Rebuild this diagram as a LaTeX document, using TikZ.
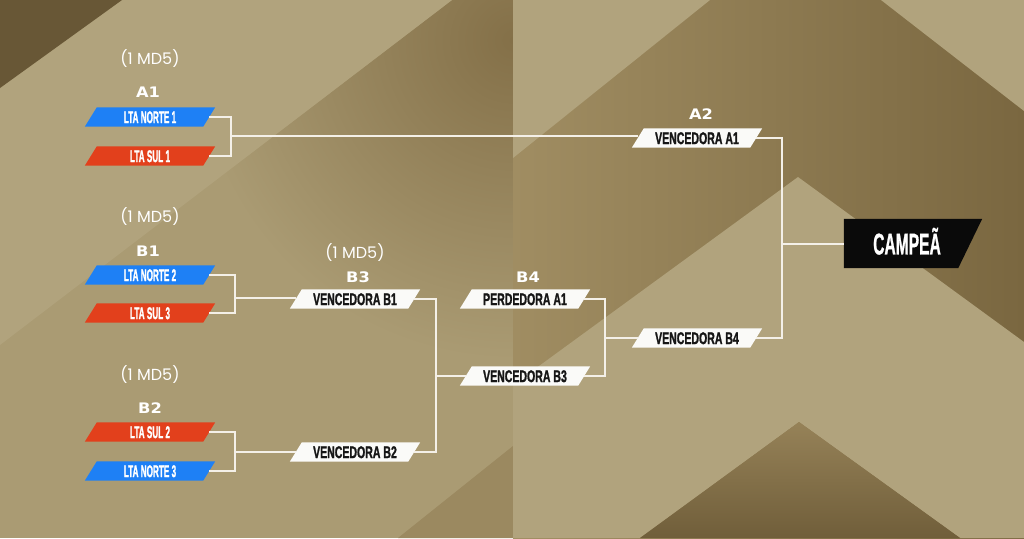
\documentclass[tikz,border=0pt]{standalone}
\usepackage{fontspec}
\setmainfont{Liberation Sans}
\newfontfamily\teamfont[FakeStretch=0.48,FakeBold=1.2]{Liberation Sans}
\newfontfamily\winfont[FakeStretch=0.62,FakeBold=1.2]{Liberation Sans}
\newfontfamily\champfont[FakeStretch=0.52,FakeBold=0.8]{Liberation Sans}
\newfontfamily\roundfont[FakeStretch=1.12]{DejaVu Sans}
\newfontfamily\mdfont{Poppins}
\pgfdeclarelayer{bg}
\pgfdeclarelayer{boxes}
\pgfsetlayers{bg,boxes,main}
\definecolor{bgLight}{RGB}{177,163,125}
\definecolor{bgLeft}{RGB}{170,155,115}
\definecolor{bandL}{RGB}{160,141,98}
\definecolor{bandR}{RGB}{122,103,64}
\definecolor{cornerDk}{RGB}{104,87,54}
\definecolor{shadowDk}{RGB}{132,112,72}
\definecolor{midDk}{RGB}{155,137,96}
\definecolor{triTop}{RGB}{150,130,88}
\definecolor{triBot}{RGB}{112,94,58}
\definecolor{ltaBlue}{RGB}{30,128,245}
\definecolor{ltaRed}{RGB}{226,64,28}
\definecolor{lineW}{RGB}{244,240,232}
\definecolor{boxW}{RGB}{250,250,248}
\definecolor{txtK}{RGB}{22,22,22}
\definecolor{champK}{RGB}{10,10,10}
\newcommand\slantfill[2]{\fill[#2] ([xshift=-6pt]#1.south west) -- ([xshift=6pt]#1.north west) -- ([xshift=6pt]#1.north east) -- ([xshift=-6pt]#1.south east) -- cycle;}
\tikzset{
  box/.style={minimum width=118pt, minimum height=19pt, inner sep=0pt, text height=12.2pt, text depth=0pt},
  team/.style={box, text=white, font=\teamfont\bfseries\fontsize{17}{17}\selectfont},
  win/.style={box, text=txtK, font=\winfont\bfseries\fontsize{17}{17}\selectfont},
  champ/.style={minimum width=126pt, minimum height=49pt, inner sep=0pt, text height=21.9pt, text depth=0pt, text=white, font=\champfont\bfseries\fontsize{30}{30}\selectfont},
  md/.style={text=white, font=\mdfont\fontsize{16}{16}\selectfont, inner sep=0pt},
  rnd/.style={text=white, font=\roundfont\bfseries\fontsize{14.5}{14.5}\selectfont, inner sep=0pt},
  conn/.style={draw=lineW, line width=1.4pt},
}
\begin{document}
\begin{tikzpicture}[x=1pt,y=-1pt]
\useasboundingbox (0,0) rectangle (1024,538);
\begin{pgfonlayer}{bg}
  % left half
  \fill[bgLeft] (0,0) rectangle (513,538);
  \begin{scope}
    \clip (452,0) -- (513,0) -- (513,538) -- (0,538) -- (0,345) -- cycle;
    \shade[inner color=shadowDk, outer color=bgLeft] (513,40) circle[radius=320];
  \end{scope}
  \fill[bgLight] (122,0) -- (452,0) -- (0,345) -- (0,88) -- cycle;
  \fill[cornerDk] (0,0) -- (122,0) -- (0,88) -- cycle;
  \fill[midDk] (513,446) -- (513,538) -- (398,538) -- cycle;
  % right half
  \shade[left color=bandL, right color=bandR] (513,0) rectangle (1024,538);
  \fill[bgLight] (513,0) -- (710,0) -- (513,158) -- cycle;
  \fill[bgLight] (881,0) -- (1024,0) -- (1024,111) -- cycle;
  \fill[bgLight] (513,385) -- (798,177) -- (1024,342) -- (1024,538) -- (960,538) -- (799,422) -- (640,538) -- (513,538) -- cycle;
  \shade[top color=triTop, bottom color=triBot] (640,538) -- (799,422) -- (960,538) -- cycle;
\end{pgfonlayer}

% team boxes
\node[team] (n1) at (150,117) {LTA NORTE 1};
\node[team] (s1) at (150,156) {LTA SUL 1};
\node[team] (n2) at (150,275) {LTA NORTE 2};
\node[team] (s3) at (150,313) {LTA SUL 3};
\node[team] (s2) at (150,432) {LTA SUL 2};
\node[team] (n3) at (150,471) {LTA NORTE 3};
% later rounds
\node[win] (va1) at (697,138) {VENCEDORA A1};
\node[win] (vb1) at (355,299) {VENCEDORA B1};
\node[win] (vb2) at (355,452) {VENCEDORA B2};
\node[win] (pa1) at (525,299) {PERDEDORA A1};
\node[win] (vb3) at (525,376) {VENCEDORA B3};
\node[win] (vb4) at (697,338) {VENCEDORA B4};
\node[champ] (camp) at (907,243.5) {CAMPEÃ};

\begin{pgfonlayer}{boxes}
  \slantfill{n1}{ltaBlue}
  \slantfill{s1}{ltaRed}
  \slantfill{n2}{ltaBlue}
  \slantfill{s3}{ltaRed}
  \slantfill{s2}{ltaRed}
  \slantfill{n3}{ltaBlue}
  \slantfill{va1}{boxW}
  \slantfill{vb1}{boxW}
  \slantfill{vb2}{boxW}
  \slantfill{pa1}{boxW}
  \slantfill{vb3}{boxW}
  \slantfill{vb4}{boxW}
  \fill[champK] (camp.north west) -- ([xshift=12pt]camp.north east) -- ([xshift=-12pt]camp.south east) -- (camp.south west) -- cycle;
\end{pgfonlayer}

% labels
\node[md] (mdA1) at (150,59) {(1 MD5)};
\node[rnd] (lA1) at (148,92) {A1};
\node[md] (mdB1) at (150,217) {(1 MD5)};
\node[rnd] (lB1) at (148,251) {B1};
\node[md] (mdB3) at (355,253) {(1 MD5)};
\node[rnd] (lB3) at (358,277) {B3};
\node[rnd] (lB4) at (528,277) {B4};
\node[md] (mdB2) at (150,375) {(1 MD5)};
\node[rnd] (lB2) at (150,408) {B2};
\node[rnd] (lA2) at (701,114) {A2};

% connectors
\coordinate (a1m) at (231,136);
\draw[conn] (n1.east) -| (a1m) |- (s1.east);
\draw[conn] (a1m) -- (a1m -| va1.west);
\coordinate (b1m) at (235,298);
\draw[conn] (n2.east) -| (b1m) |- (s3.east);
\draw[conn] (b1m) -- (b1m -| vb1.west);
\coordinate (b2m) at (235,452);
\draw[conn] (s2.east) -| (b2m) |- (n3.east);
\draw[conn] (b2m) -- (b2m -| vb2.west);
\coordinate (b3m) at (436,376);
\draw[conn] (vb1.east) -| (b3m) |- (vb2.east);
\draw[conn] (b3m) -- (b3m -| vb3.west);
\coordinate (b4m) at (605,338);
\draw[conn] (pa1.east) -| (b4m) |- (vb3.east);
\draw[conn] (b4m) -- (b4m -| vb4.west);
\coordinate (a2m) at (782,244);
\draw[conn] (va1.east) -| (a2m) |- (vb4.east);
\draw[conn] (a2m) -- (a2m -| camp.west);
\end{tikzpicture}
\end{document}
